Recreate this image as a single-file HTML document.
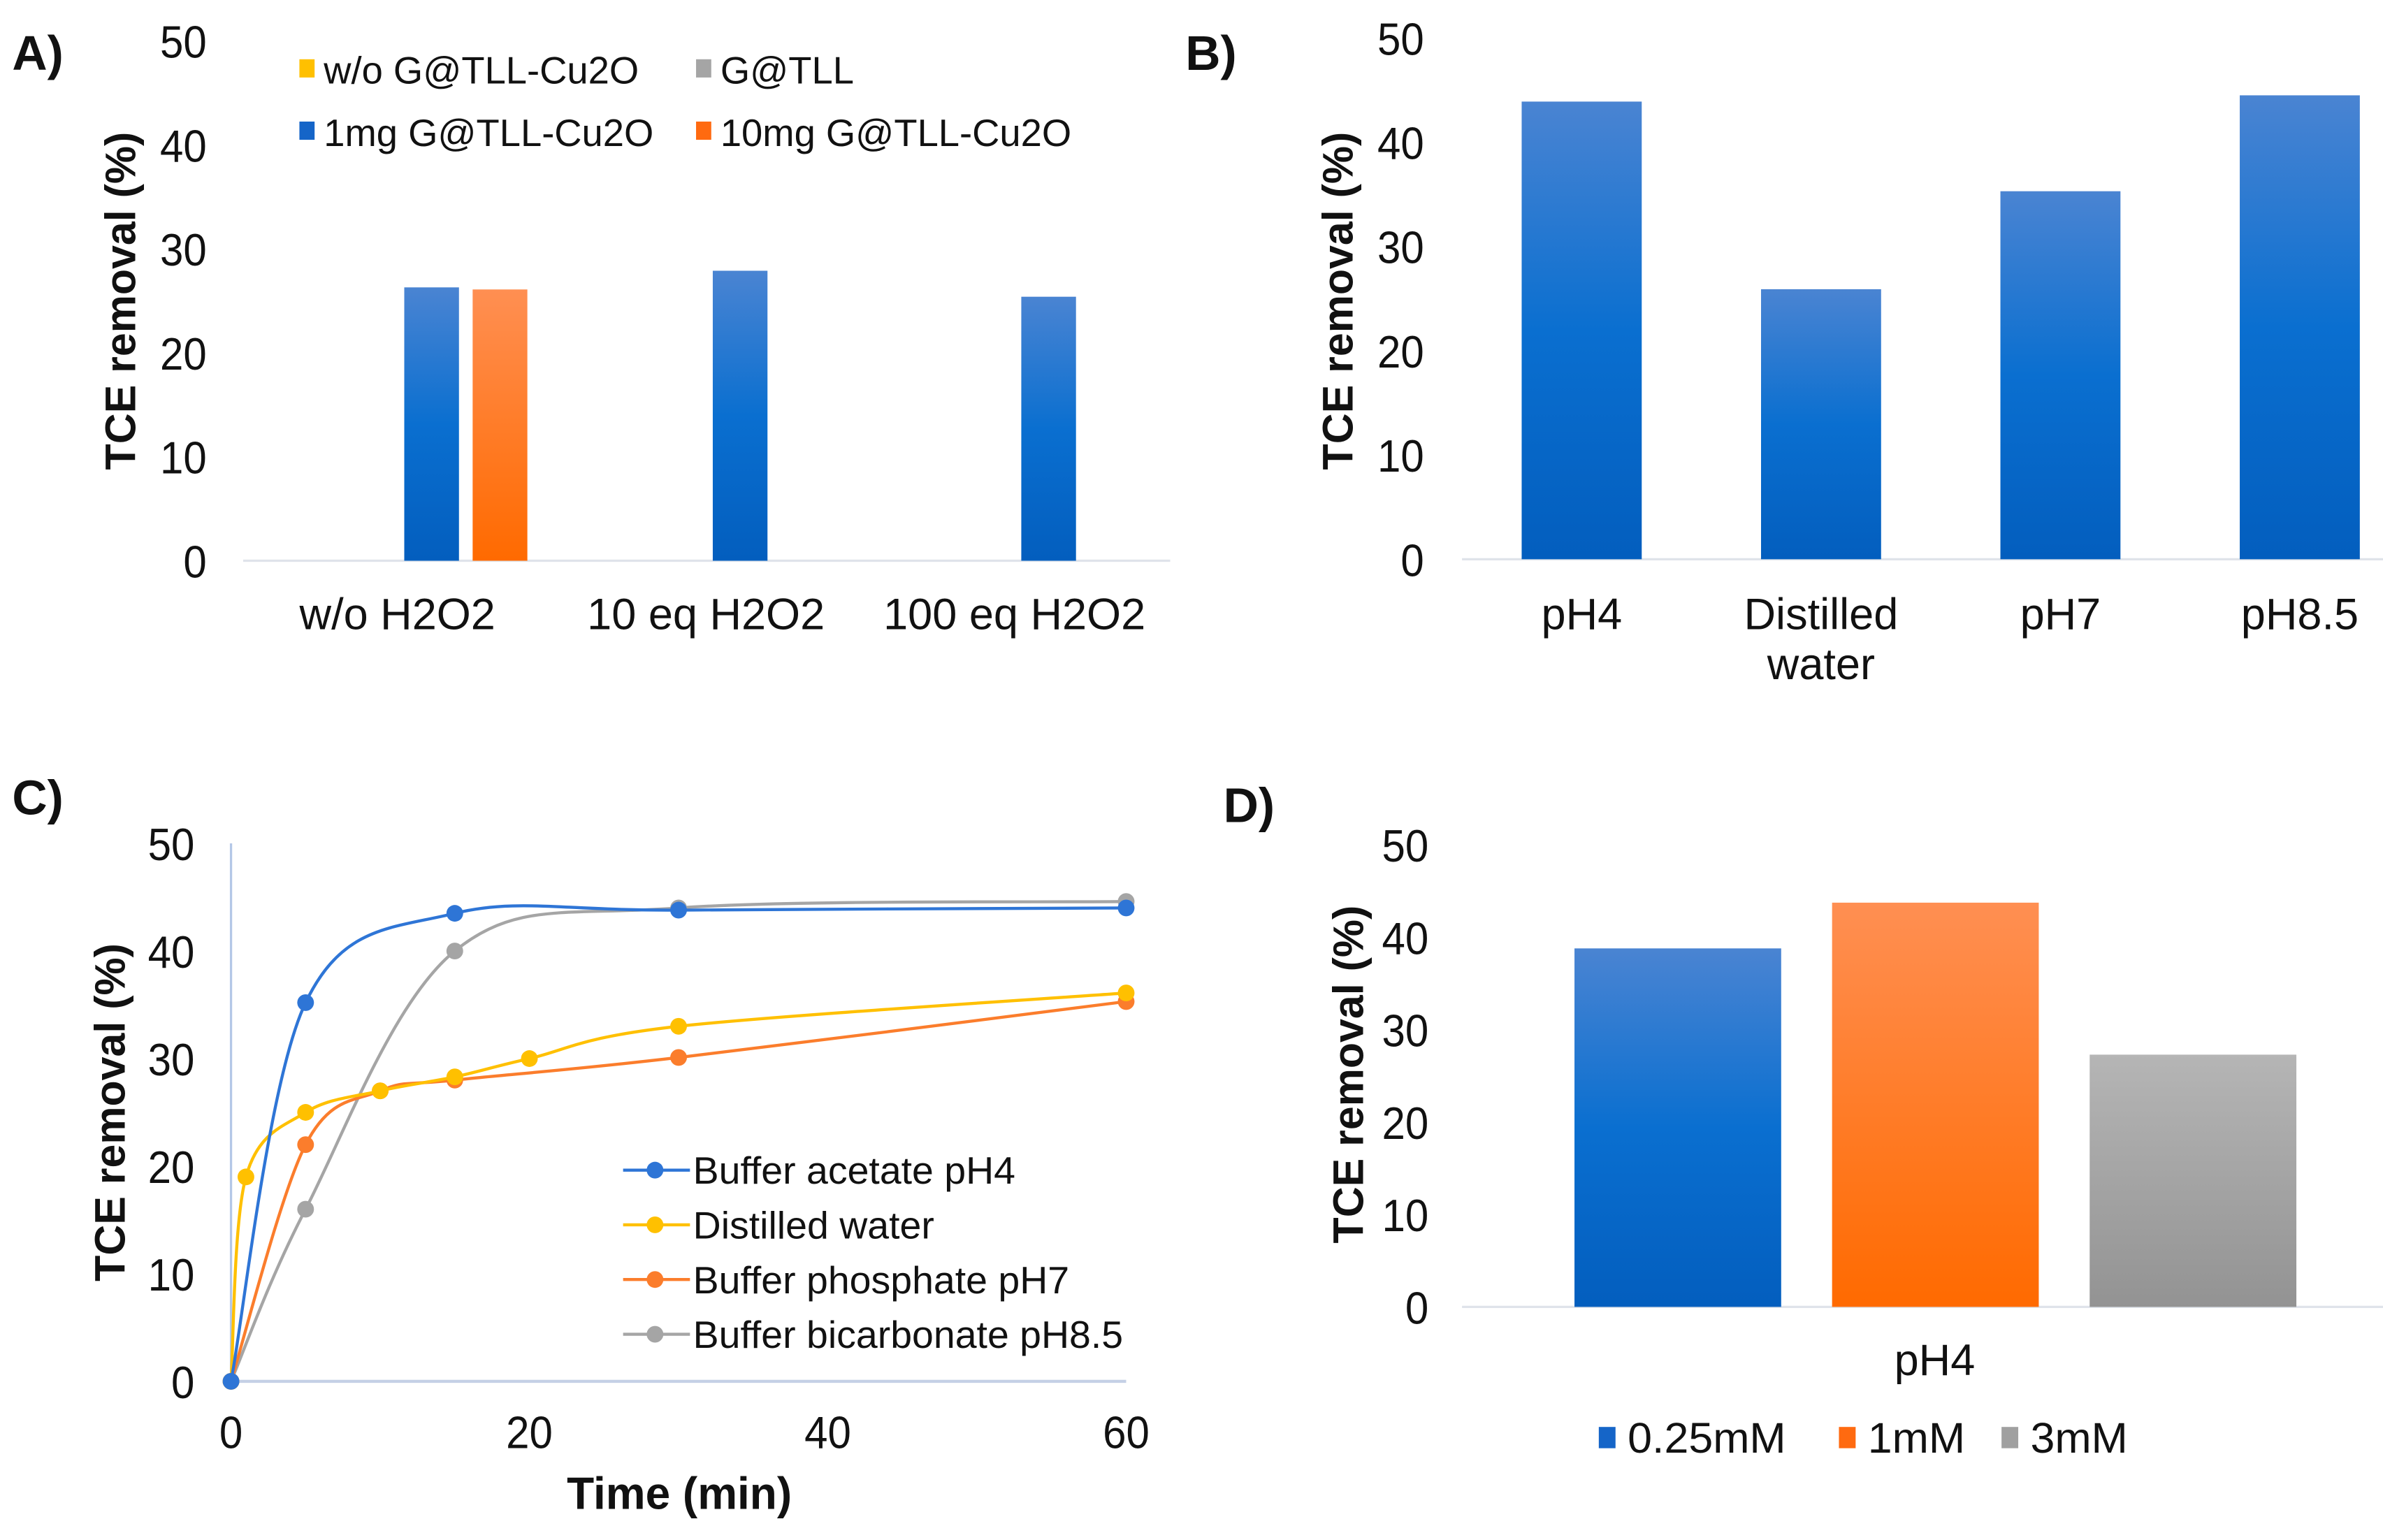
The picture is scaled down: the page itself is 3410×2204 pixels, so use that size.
<!DOCTYPE html>
<html><head><meta charset="utf-8"><style>
html,body{margin:0;padding:0;background:#fff;}
svg{display:block;}
text{font-family:"Liberation Sans",Arial,sans-serif;fill:#111;}
</style></head><body>
<svg id="fig" width="3410" height="2204" viewBox="0 0 1568 1013.4" preserveAspectRatio="none" xmlns="http://www.w3.org/2000/svg">
<defs>
<linearGradient id="gBlue" x1="0" y1="0" x2="0" y2="1"><stop offset="0" stop-color="#4a84d2"/><stop offset="0.5" stop-color="#0a6fd0"/><stop offset="1" stop-color="#035ebe"/></linearGradient>
<linearGradient id="gOrange" x1="0" y1="0" x2="0" y2="1"><stop offset="0" stop-color="#ff8f52"/><stop offset="1" stop-color="#ff6a00"/></linearGradient>
<linearGradient id="gGray" x1="0" y1="0" x2="0" y2="1"><stop offset="0" stop-color="#b5b5b5"/><stop offset="1" stop-color="#939393"/></linearGradient>
</defs>
</svg>
<script>
// Panel A data
const aCategories = ["w/o H2O2", "10 eq H2O2", "100 eq H2O2"];
const aSeriesNames = ["w/o G@TLL-Cu2O", "G@TLL", "1mg G@TLL-Cu2O", "10mg G@TLL-Cu2O"];
const aYellow = [0, 0, 0];
const aGray = [0, 0, 0];
const aBlue = [26.3, 27.9, 25.4];
const aOrange = [26.1, 0, 0];
const yTicks = [0, 10, 20, 30, 40, 50];
// Panel B data
const bCategories = ["pH4", "Distilled|water", "pH7", "pH8.5"];
const bValues = [43.9, 25.9, 35.3, 44.5];
// Panel C data
const cSeriesNames = ["Buffer acetate pH4", "Distilled water", "Buffer phosphate pH7", "Buffer bicarbonate pH8.5"];
const cBlueX = [0, 5, 15, 30, 60];
const cBlueY = [0, 35.2, 43.5, 43.8, 44.0];
const cYellowX = [0, 1, 5, 10, 15, 20, 30, 60];
const cYellowY = [0, 19, 25, 27, 28.3, 30, 33, 36.1];
const cOrangeX = [0, 5, 10, 15, 30, 60];
const cOrangeY = [0, 22, 27, 28, 30.1, 35.3];
const cGrayX = [0, 5, 15, 30, 60];
const cGrayY = [0, 16, 40, 44, 44.6];
const cXTicks = [0, 20, 40, 60];
// Panel D data
const dCategory = "pH4";
const dSeriesNames = ["0.25mM", "1mM", "3mM"];
const dValues = [38.8, 43.75, 27.3];

const NS = "http://www.w3.org/2000/svg";
const svg = document.getElementById('fig');
function mk(tag, attrs, parent) {
  const e = document.createElementNS(NS, tag);
  for (const k in attrs) e.setAttribute(k, attrs[k]);
  (parent || svg).appendChild(e);
  return e;
}
function txt(s, x, y, size, anchor, bold, parent, rot, sx) {
  const t = mk('text', {x: 0, y: 0, 'font-size': size, 'text-anchor': anchor || 'start',
    transform: `translate(${x},${y})` + (rot ? ` rotate(${rot})` : '') + ` scale(${sx || 1},1)`}, parent);
  if (bold) t.setAttribute('font-weight', 'bold');
  t.textContent = s;
  return t;
}
function yScale(y0, y50) { return v => y0 + (y50 - y0) * v / 50; }

// ---------- Panel A ----------
const gA = mk('g', {});


txt("A)", 8, 46, 32, 'start', true, gA);
const yA = yScale(369, 27);
yTicks.forEach(v => {
  const t = txt(String(v), 136, yA(v) + 11, 30, 'end', false, gA, 0, 0.92);
  
  
});
const ta = txt("TCE removal (%)", 89, 198, 28, 'middle', true, gA, -90);


const axA = mk('line', {x1: 160, y1: 369, x2: 770, y2: 369, stroke: '#dfe3ea', 'stroke-width': 1.5}, gA);


const aSeries = [aYellow, aGray, aBlue, aOrange];
const aFills = ['#ffc000', 'url(#gGray)', 'url(#gBlue)', 'url(#gOrange)'];
const catWA = 203, barWA = 36, slotA = 45;
aCategories.forEach((c, i) => {
  const cx = 160 + catWA * (i + 0.5);
  const gx = cx - 2 * slotA + 4.5;
  aSeries.forEach((s, j) => {
    if (s[i] <= 0) return;
    const r = mk('rect', {x: gx + j * slotA, y: yA(s[i]), width: barWA, height: yA(0) - yA(s[i]), fill: aFills[j]}, gA);
    
    
  });
  const l = txt(c, cx, 414, 29, 'middle', false, gA, 0, 1.0);
  
  
});
const aLegPos = [[197, 46], [458, 46], [197, 87], [458, 87]];
const aLegCol = ['#ffc000', '#a5a5a5', '#1565c8', '#ff6a10'];
aSeriesNames.forEach((n, j) => {
  const g = mk('g', {}, gA);
  
  
  mk('rect', {x: aLegPos[j][0], y: aLegPos[j][1] - 7, width: 10, height: 12, fill: aLegCol[j]}, g);
  txt(n, aLegPos[j][0] + 16, aLegPos[j][1] + 9, 25, 'start', false, g, 0, 1.0);
});

// ---------- Panel B ----------
const gB = mk('g', {});


txt("B)", 780, 46, 32, 'start', true, gB);
const yB = yScale(368, 25);
yTicks.forEach(v => {
  const t = txt(String(v), 937, yB(v) + 11, 30, 'end', false, gB, 0, 0.92);
  
  
});
const tb = txt("TCE removal (%)", 890, 198, 28, 'middle', true, gB, -90);


const axB = mk('line', {x1: 962, y1: 368, x2: 1568, y2: 368, stroke: '#dfe3ea', 'stroke-width': 1.5}, gB);


const catWB = 157.5;
bCategories.forEach((c, i) => {
  const cx = 962 + catWB * (i + 0.5);
  const r = mk('rect', {x: cx - 39.5, y: yB(bValues[i]), width: 79, height: yB(0) - yB(bValues[i]), fill: 'url(#gBlue)'}, gB);
  
  
  c.split('|').forEach((line, k) => {
    const l = txt(line, cx, 414 + k * 33, 29, 'middle', false, gB, 0, 1.0);
    
    
  });
});

// ---------- Panel C ----------
const gC = mk('g', {});


txt("C)", 8, 536, 32, 'start', true, gC);
const yC = yScale(909, 555);
const xC = v => 152 + (741 - 152) * v / 60;
mk('line', {x1: 152, y1: 555, x2: 152, y2: 909, stroke: '#b4c7e7', 'stroke-width': 1.5}, gC);
mk('line', {x1: 152, y1: 909, x2: 741, y2: 909, stroke: '#c5d0e6', 'stroke-width': 2}, gC);
yTicks.forEach(v => {
  const t = txt(String(v), 128, yC(v) + 11, 30, 'end', false, gC, 0, 0.92);
  
  
});
cXTicks.forEach(v => {
  const t = txt(String(v), xC(v), 953, 30, 'middle', false, gC, 0, 0.92);
  
  
});
const tc = txt("TCE removal (%)", 82, 732, 28, 'middle', true, gC, -90);


const tcx = txt("Time (min)", 447, 993, 30, 'middle', true, gC, 0, 0.98);


function smooth(pts) {
  let d = `M${pts[0][0]},${pts[0][1]}`;
  for (let i = 0; i < pts.length - 1; i++) {
    const p0 = pts[i - 1] || pts[i], p1 = pts[i], p2 = pts[i + 1], p3 = pts[i + 2] || p2;
    const t = 1 / 6;
    const c1 = [p1[0] + (p2[0] - p0[0]) * t, p1[1] + (p2[1] - p0[1]) * t];
    const c2 = [p2[0] - (p3[0] - p1[0]) * t, p2[1] - (p3[1] - p1[1]) * t];
    d += ` C${c1[0]},${c1[1]} ${c2[0]},${c2[1]} ${p2[0]},${p2[1]}`;
  }
  return d;
}
const cSeries = [[cBlueX, cBlueY], [cYellowX, cYellowY], [cOrangeX, cOrangeY], [cGrayX, cGrayY]];
const cCols = ['#2e75d6', '#ffc000', '#fb7d2c', '#a5a5a5'];
const order = [3, 2, 1, 0];
order.forEach(j => {
  const [xs, ys] = cSeries[j];
  const pts = xs.map((x, i) => [xC(x), yC(ys[i])]);
  const g = mk('g', {}, gC);
  
  
  mk('path', {d: smooth(pts), fill: 'none', stroke: cCols[j], 'stroke-width': 2}, g);
  pts.forEach(p => {
    const c = mk('circle', {cx: p[0], cy: p[1], r: 5.5, fill: cCols[j]}, g);
    
    
  });
});
cSeriesNames.forEach((n, j) => {
  const y = 770 + j * 36;
  const g = mk('g', {}, gC);
  
  
  mk('line', {x1: 410, y1: y, x2: 454, y2: y, stroke: cCols[j], 'stroke-width': 2}, g);
  mk('circle', {cx: 431, cy: y, r: 5.5, fill: cCols[j]}, g);
  txt(n, 456, y + 9, 25, 'start', false, g, 0, 1.02);
});

// ---------- Panel D ----------
const gD = mk('g', {});


txt("D)", 805, 541, 32, 'start', true, gD);
const yD = yScale(860, 556);
yTicks.forEach(v => {
  const t = txt(String(v), 940, yD(v) + 11, 30, 'end', false, gD, 0, 0.92);
  
  
});
const td = txt("TCE removal (%)", 897, 707, 28, 'middle', true, gD, -90);


mk('line', {x1: 962, y1: 860, x2: 1568, y2: 860, stroke: '#dfe3ea', 'stroke-width': 1.5}, gD);
const dFills = ['url(#gBlue)', 'url(#gOrange)', 'url(#gGray)'];
const dCols = ['#1565c8', '#ff6a10', '#a0a0a0'];
dValues.forEach((v, j) => {
  const x = 1036 + j * 169.5;
  const r = mk('rect', {x: x, y: yD(v), width: 136, height: yD(0) - yD(v), fill: dFills[j]}, gD);
  
  
});
const dl = txt(dCategory, 1273, 905, 29, 'middle', false, gD, 0, 1.0);


const dLegX = [1052, 1210, 1317];
dSeriesNames.forEach((n, j) => {
  const g = mk('g', {}, gD);
  
  
  mk('rect', {x: dLegX[j], y: 939, width: 11, height: 14, fill: dCols[j]}, g);
  txt(n, dLegX[j] + 19, 956, 28, 'start', false, g, 0, 1.03);
});
</script>
</body></html>
